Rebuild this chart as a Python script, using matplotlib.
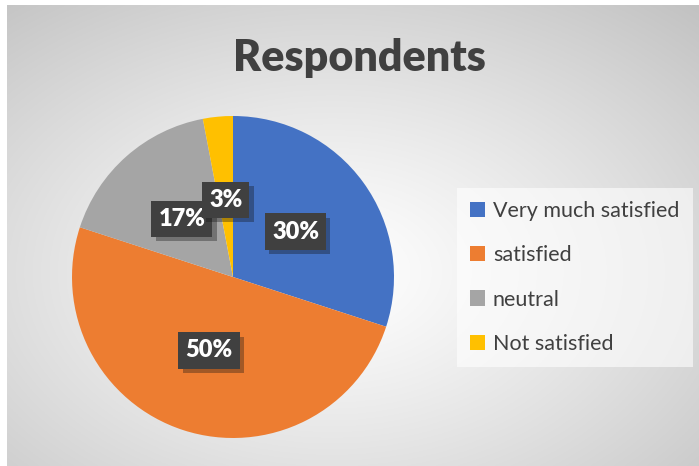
import numpy as np
import matplotlib
matplotlib.use('Agg')
import matplotlib.pyplot as plt
import matplotlib.patheffects as pe

categories = ['Very much satisfied', 'satisfied', 'neutral', 'Not satisfied']
values = [30, 50, 17, 3]
colors = ['#4472C4', '#ED7D31', '#A5A5A5', '#FFC000']
title = 'Respondents'

W, H = 699, 466
fig = plt.figure(figsize=(W / 100, H / 100), dpi=100)
fig.patch.set_facecolor('white')

# radial grey background
bg = fig.add_axes([7 / W, 0, 1 - 7 / W, 1 - 5 / H])
yy, xx = np.mgrid[0:1:300j, 0:1:450j]
r = np.sqrt(((xx - 0.47) / 0.75) ** 2 + ((yy - 0.58) / 0.75) ** 2)
r = np.clip(r / r.max(), 0, 1)
shade = 1 - 0.24 * r ** 1.2
bg.imshow(np.dstack([shade] * 3), extent=[0, 1, 0, 1], aspect='auto', origin='upper')
bg.axis('off')

# pie
cx, cy, rad = 233, 277, 161
ax = fig.add_axes([(cx - rad) / W, (H - cy - rad) / H, 2 * rad / W, 2 * rad / H])
wedges, texts, autotexts = ax.pie(values, colors=colors, startangle=90, counterclock=False,
                                  autopct='%1.0f%%', pctdistance=0.48,
                                  wedgeprops=dict(linewidth=0))
ax.set_xlim(-1, 1)
ax.set_ylim(-1, 1)
ax.set_aspect('equal')
ax.axis('off')

for t in autotexts:
    t.set_color('white')
    t.set_fontsize(17)
    t.set_fontweight('heavy')
    t.set_family('Lato')
    t.set_bbox(dict(boxstyle='square,pad=0.3', facecolor='#404040', edgecolor='none'))
    t.get_bbox_patch().set_path_effects([pe.SimplePatchShadow(offset=(3, -3), alpha=0.35),
                                         pe.Normal()])

fig.text(359 / W, 1 - 58 / H, title, ha='center', va='center', fontsize=31,
         fontweight='heavy', color='#404040', family='Lato')

leg = fig.legend(wedges, categories, loc='upper left',
                 bbox_to_anchor=(457 / W, 1 - 188 / H), frameon=True,
                 prop={'family': 'Lato', 'size': 15.5}, labelcolor='#404040',
                 handlelength=0.7, handleheight=0.7, handletextpad=0.35,
                 labelspacing=1.12, borderpad=0.62, borderaxespad=0, fancybox=False)
leg.get_frame().set_facecolor('white')
leg.get_frame().set_alpha(0.6)
leg.get_frame().set_linewidth(0)

fig.savefig('out.png', dpi=100)
